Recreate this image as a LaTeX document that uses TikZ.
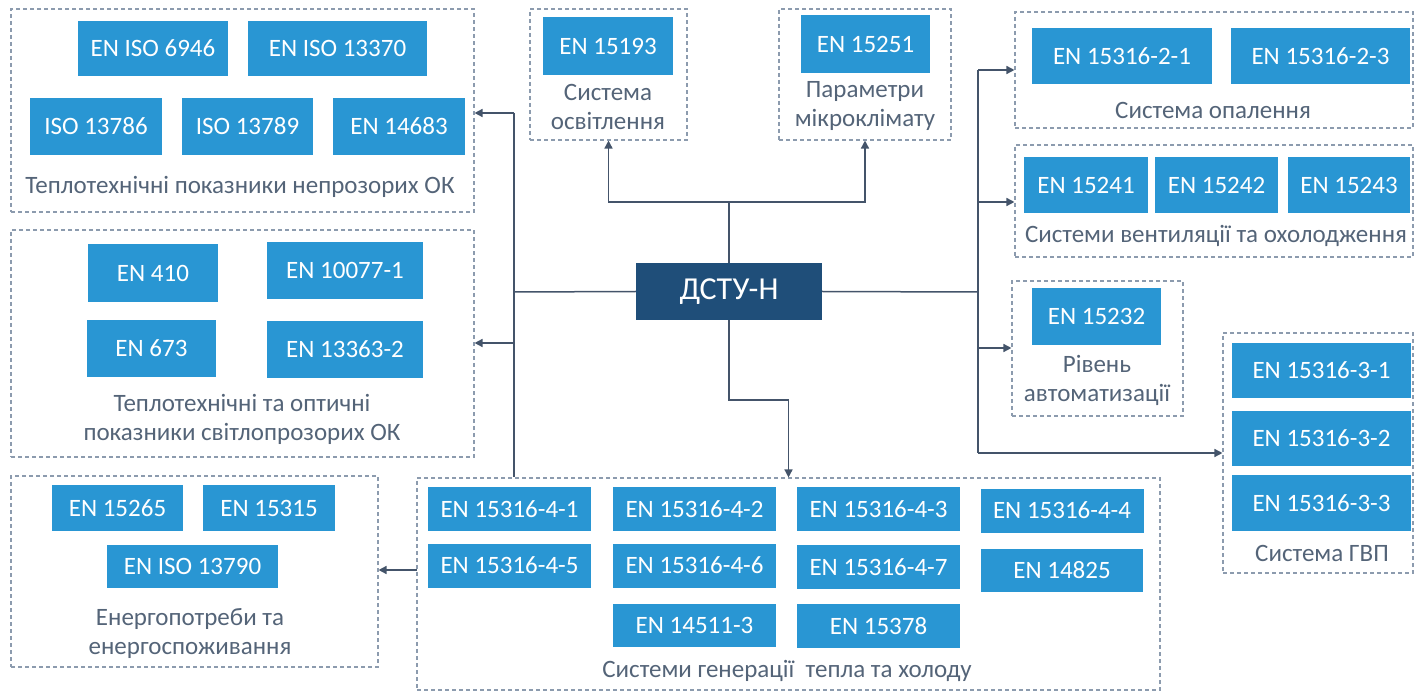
\documentclass[tikz,border=0pt]{standalone}
\usepackage{fontspec}
\setmainfont{Carlito}
\usetikzlibrary{arrows.meta}
\definecolor{sinij}{RGB}{41,150,211}
\definecolor{temnyj}{RGB}{31,78,121}
\definecolor{liniya}{RGB}{68,84,106}
\definecolor{ramka}{RGB}{140,155,174}
\definecolor{tekst}{RGB}{84,100,120}

\begin{document}
\begin{tikzpicture}[x=1pt, y=-1pt,
			rozmir/.style 2 args={minimum width=#1pt, minimum height=#2pt},
			norma/.style={fill=sinij, text=white, inner sep=0pt, font=\fontsize{25}{28}\selectfont},
			grupa/.style={draw=ramka, dash pattern=on 4pt off 3pt, line width=1.1pt, inner sep=0pt},
			pidpys/.style={text=tekst, align=center, inner sep=0pt, font=\fontsize{25}{29}\selectfont},
			golovna/.style={fill=temnyj, text=white, inner sep=0pt, font=\fontsize{32}{36}\selectfont},
			zvjazok/.style={draw=liniya, line width=1.5pt},
			strilka/.style={zvjazok, -{Triangle[length=8pt, width=8pt]}}]
			\useasboundingbox (0,0) rectangle (1414,692);
			% dashed groups
			\node[grupa, rozmir={463}{203}] (nepr) at (242.5,110.5) {};
			\node[grupa, rozmir={463}{227}] (svitlo) at (242.5,343.5) {};
			\node[grupa, rozmir={367}{191}] (energ) at (194.5,571.5) {};
			\node[grupa, rozmir={743}{212}] (gener) at (788.5,584) {};
			\node[grupa, rozmir={157}{131}] (osvit) at (608.5,74.5) {};
			\node[grupa, rozmir={172}{131}] (mikro) at (865,74.5) {};
			\node[grupa, rozmir={398}{116}] (opal) at (1214,70) {};
			\node[grupa, rozmir={398}{112}] (vent) at (1214,201) {};
			\node[grupa, rozmir={171}{135}] (avto) at (1097.5,348.5) {};
			\node[grupa, rozmir={190}{240}] (gvp) at (1318,453) {};
			% непрозорі ОК
			\node[norma, rozmir={150}{55}] (iso6946) at (153,48.5) {EN ISO 6946};
			\node[norma, rozmir={179}{55}] (iso13370) at (337.5,48.5) {EN ISO 13370};
			\node[norma, rozmir={132}{57}] (iso13786) at (96,126.5) {ISO 13786};
			\node[norma, rozmir={131}{57}] (iso13789) at (247.5,126.5) {ISO 13789};
			\node[norma, rozmir={132}{57}] (en14683) at (399,126.5) {EN 14683};
			\node[pidpys] (nepr-t) at (240,187) {Теплотехнічні показники непрозорих ОК};
			% світлопрозорі ОК
			\node[norma, rozmir={130}{58}] (en410) at (153,273) {EN 410};
			\node[norma, rozmir={156}{57}] (en10077) at (345,270.5) {EN 10077-1};
			\node[norma, rozmir={129}{57}] (en673) at (151.5,348.5) {EN 673};
			\node[norma, rozmir={156}{57}] (en13363) at (345,349.5) {EN 13363-2};
			\node[pidpys] (svitlo-t) at (242,419.5) {Теплотехнічні та оптичні\\показники світлопрозорих ОК};
			% енергопотреби
			\node[norma, rozmir={131}{46}] (en15265) at (117.5,508) {EN 15265};
			\node[norma, rozmir={132}{46}] (en15315) at (269,508) {EN 15315};
			\node[norma, rozmir={171}{43}] (iso13790) at (192.5,566.5) {EN ISO 13790};
			\node[pidpys] (energ-t) at (190,633.5) {Енергопотреби та\\енергоспоживання};
			% генерація тепла та холоду
			\foreach \i/\x/\y in {1/509.5/509, 2/694.5/509, 3/878.5/509, 4/1062/510.5,
				5/509.5/565.5, 6/694.5/565.5, 7/878.5/567}
				\node[norma, rozmir={163}{44}] (gen\i) at (\x,\y) {EN 15316-4-\i};
			\node[norma, rozmir={162}{43}] (en14825) at (1062,570.5) {EN 14825};
			\node[norma, rozmir={163}{43}] (en14511) at (694.5,625.5) {EN 14511-3};
			\node[norma, rozmir={163}{44}] (en15378) at (878.5,626) {EN 15378};
			\node[pidpys] (gener-t) at (787,671) {Системи генерації\ \ тепла та холоду};
			% верхні групи
			\node[norma, rozmir={130}{58}] (en15193) at (608,46) {EN 15193};
			\node[pidpys] (osvit-t) at (608,107) {Система\\освітлення};
			\node[norma, rozmir={129}{58}] (en15251) at (865.5,44) {EN 15251};
			\node[pidpys] (mikro-t) at (865,106) {Параметри\\мікроклімату};
			% праві групи
			\node[norma, rozmir={180}{56}] (opal1) at (1122,56) {EN 15316-2-1};
			\node[norma, rozmir={179}{56}] (opal3) at (1320.5,56) {EN 15316-2-3};
			\node[pidpys] (opal-t) at (1213,110) {Система опалення};
			\node[norma, rozmir={124}{56}] (en15241) at (1086,185) {EN 15241};
			\node[norma, rozmir={123}{56}] (en15242) at (1216.5,185) {EN 15242};
			\node[norma, rozmir={122}{56}] (en15243) at (1349,185) {EN 15243};
			\node[pidpys] (vent-t) at (1216,236) {Системи вентиляції та охолодження};
			\node[norma, rozmir={129}{57}] (en15232) at (1096.5,316.5) {EN 15232};
			\node[pidpys] (avto-t) at (1097,380) {Рівень\\автоматизації};
			\node[norma, rozmir={179}{55}] (gvp1) at (1321.5,370.5) {EN 15316-3-1};
			\node[norma, rozmir={179}{55}] (gvp2) at (1321.5,438.5) {EN 15316-3-2};
			\node[norma, rozmir={179}{56}] (gvp3) at (1321.5,503) {EN 15316-3-3};
			\node[pidpys] (gvp-t) at (1322,553) {Система ГВП};
			% центр
			\node[golovna, rozmir={186}{57}] (dstu) at (729,291.5) {ДСТУ-Н};
			% вузли ліній
			\coordinate (verh) at (729,202);
			\coordinate (niz) at (729,400);
			\coordinate (liv1) at (514,113);
			\coordinate (liv2) at (514,343);
			\coordinate (liv0) at (514,292);
			\coordinate (prav0) at (978,292);
			\coordinate (prav1) at (978,70);
			\coordinate (prav2) at (978,202);
			\coordinate (prav3) at (978,348);
			\coordinate (prav4) at (978,453);
			\coordinate (gen-l) at (417,570);
			% з'єднання
			\draw[zvjazok] (dstu.north) -- (verh);
			\draw[strilka] (verh) -| (osvit.south);
			\draw[strilka] (verh) -| (mikro.south);
			\draw[strilka] (dstu.south) -- (niz) -| (gener.north);
			\draw[zvjazok] (dstu.west) -- (liv0);
			\draw[zvjazok] (liv1) -- (liv1 |- gener.north);
			\draw[strilka] (liv1) -- (liv1 -| nepr.east);
			\draw[strilka] (liv2) -- (liv2 -| svitlo.east);
			\draw[strilka] (gen-l) -- (gen-l -| energ.east);
			\draw[zvjazok] (dstu.east) -- (prav0);
			\draw[zvjazok] (prav1) -- (prav4);
			\draw[strilka] (prav1) -- (prav1 -| opal.west);
			\draw[strilka] (prav2) -- (prav2 -| vent.west);
			\draw[strilka] (prav3) -- (prav3 -| avto.west);
			\draw[strilka] (prav4) -- (prav4 -| gvp.west);
		\end{tikzpicture}
\end{document}
